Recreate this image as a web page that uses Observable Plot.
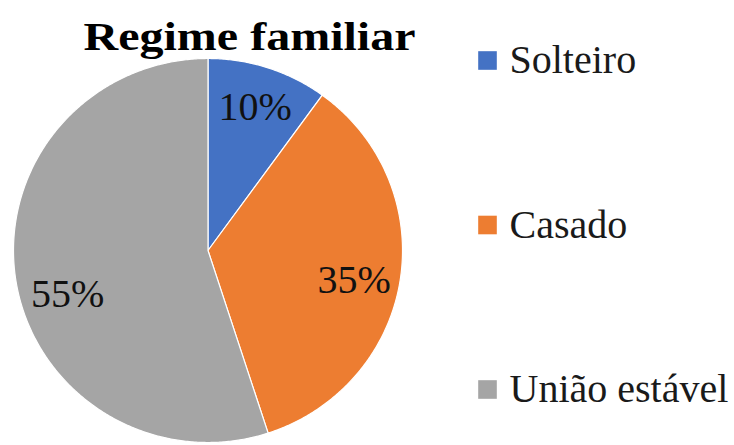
<!DOCTYPE html>
<html>
<head>
<meta charset="utf-8">
<script src="https://cdn.jsdelivr.net/npm/d3@7"></script>
<script src="https://cdn.jsdelivr.net/npm/@observablehq/plot@0.6"></script>
<style>
  html, body { margin: 0; padding: 0; background: #fff; }
  #chart svg { display: block; }
</style>
</head>
<body>
<div id="chart"></div>
<script>
(() => {
// ---- data ----
const title = "Regime familiar";
const categories = ["Solteiro", "Casado", "União estável"];
const values = [10, 35, 55];
const labels = ["10%", "35%", "55%"];
const colors = ["#4472C4", "#ED7D31", "#A5A5A5"];

// ---- layout (pixels / label placement) ----
const W = 734, H = 445;
const pLeft = 13, pRight = 402, pTop = 58, pBottom = 442;
const cx = (pLeft + pRight) / 2, cy = (pTop + pBottom) / 2;
const rx = (pRight - pLeft) / 2, ry = (pBottom - pTop) / 2;
const px = (x) => (x - cx) / rx;   // pixel -> data units
const py = (y) => (cy - y) / ry;
const labelDist = [0.785, 0.767, 0.757];       // fraction of radius
const labelShiftDeg = [0, 2.7, -8.5];          // best-fit nudge

// ---- pie geometry from the values ----
const arcs = d3.pie().sort(null).value(d => d)(values);
const slicePts = [];
arcs.forEach((a, i) => {
  const n = Math.max(2, Math.ceil((a.endAngle - a.startAngle) / (Math.PI / 360)));
  slicePts.push({cat: categories[i], x: 0, y: 0});
  for (let k = 0; k <= n; k++) {
    const t = a.startAngle + (a.endAngle - a.startAngle) * k / n;
    slicePts.push({cat: categories[i], x: Math.sin(t), y: Math.cos(t)});
  }
  slicePts.push({cat: categories[i], x: 0, y: 0});
});
const labelPts = arcs.map((a, i) => {
  const m = (a.startAngle + a.endAngle) / 2 + labelShiftDeg[i] * Math.PI / 180;
  return {label: labels[i], x: labelDist[i] * Math.sin(m), y: labelDist[i] * Math.cos(m)};
});
const legendY = [60, 224.5, 389];
const legend = categories.map((c, i) => ({cat: c, y: py(legendY[i])}));

const font = "Liberation Serif";

const chart = Plot.plot({
  width: W,
  height: H,
  marginLeft: pLeft,
  marginRight: W - pRight,
  marginTop: pTop,
  marginBottom: H - pBottom,
  style: {fontFamily: font, background: "#fff", overflow: "visible"},
  x: {domain: [-1, 1], axis: null},
  y: {domain: [-1, 1], axis: null},
  color: {domain: categories, range: colors},
  marks: [
    Plot.line(slicePts, {
      x: "x", y: "y", z: "cat", fill: "cat",
      stroke: "#ffffff", strokeWidth: 1.2, strokeLinejoin: "round"
    }),
    Plot.text(labelPts, {
      x: "x", y: "y", text: "label", fontFamily: font,
      fontSize: 40, fill: "#111", lineAnchor: "middle", textAnchor: "middle"
    }),
    Plot.text([title], {
      x: px(249), y: py(37), text: d => d, fontFamily: font,
      fontSize: 40, fontWeight: "bold", fill: "#000", textAnchor: "middle"
    }),
    Plot.dot(legend, {
      x: px(487), y: "y", fill: "cat", symbol: "square", r: 10.5, stroke: null
    }),
    Plot.text(legend, {
      x: px(509), y: "y", text: "cat", fontFamily: font,
      fontSize: 40, fill: "#1a1a1a", textAnchor: "start"
    })
  ]
});

// stretch the title horizontally like the reference
chart.querySelectorAll("text").forEach(t => {
  if (t.textContent === title) {
    t.setAttribute("textLength", 332);
    t.setAttribute("lengthAdjust", "spacingAndGlyphs");
  }
});

document.getElementById("chart").appendChild(chart);
})();
</script>
</body>
</html>
